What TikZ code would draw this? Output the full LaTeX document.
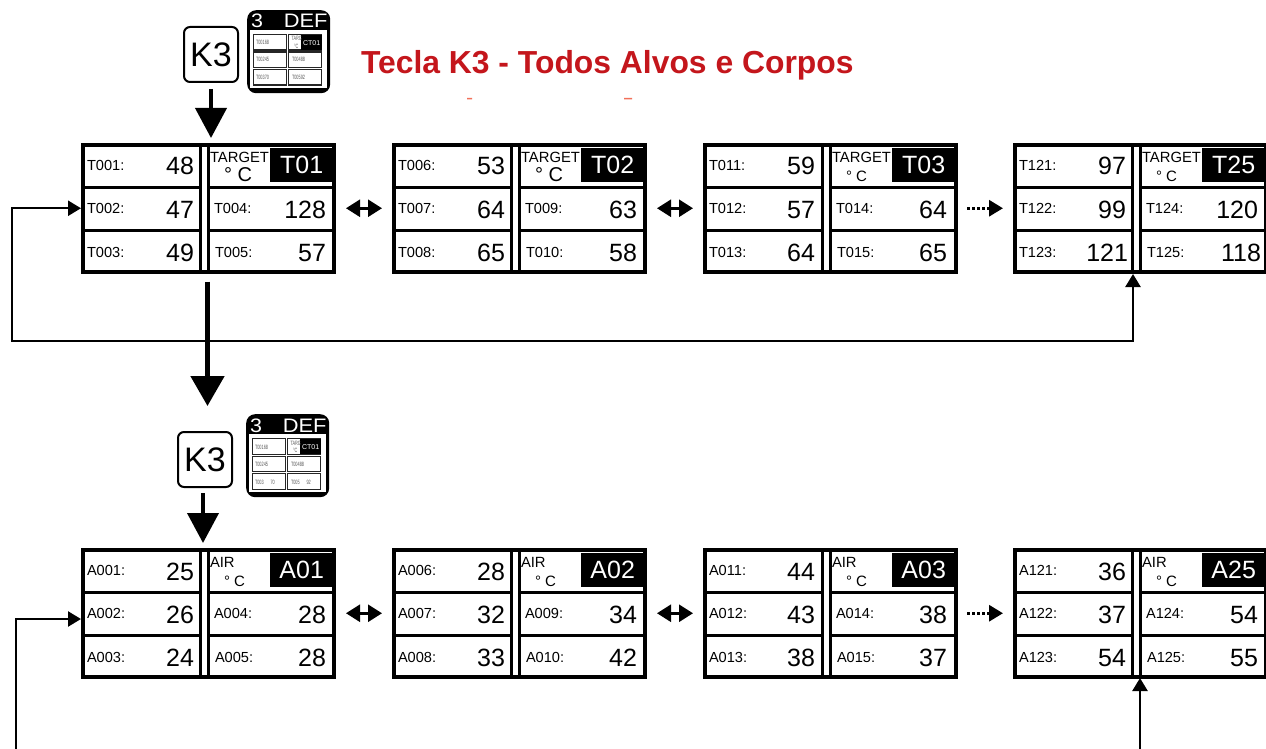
\documentclass[tikz,border=0pt]{standalone}
\usepackage{fontspec}
\usepackage{graphicx}
\setmainfont{Liberation Sans}
\usetikzlibrary{arrows.meta}
\definecolor{titlered}{HTML}{C4161C}
\definecolor{cutred}{HTML}{F2705A}
\newcommand{\fs}[1]{\fontsize{#1}{#1}\selectfont}
\newcommand{\cond}[1]{\scalebox{.62}[1]{#1}}
\tikzset{
  x=1pt,y=-1pt,
  txt/.style={inner sep=0pt,outer sep=0pt,anchor=base west},
  txtr/.style={inner sep=0pt,outer sep=0pt,anchor=base east},
  frame/.style={draw=black,line width=4pt,fill=white,anchor=north west,minimum width=251pt,minimum height=126.5pt,inner sep=0pt},
  grid/.style={black,line width=3pt},
  tagbox/.style={fill=black,text=white,anchor=north west,minimum width=63pt,minimum height=34pt,inner sep=0pt,font=\fs{25}},
  keybox/.style={draw=black,line width=2pt,rounded corners=6pt,fill=white,minimum width=54pt,minimum height=55pt,inner sep=0pt,font=\fs{34}},
  iconbox/.style={fill=black,rounded corners=9pt,anchor=north west,minimum width=83pt,minimum height=83pt,inner sep=0pt},
  iconcell/.style={draw=black!85,line width=1.2pt,fill=white,anchor=north west,inner sep=0pt,minimum width=33pt,minimum height=15.5pt},
  tiny/.style={inner sep=0pt,outer sep=0pt,anchor=base west,font=\fs{6.2},text=black!65},
  heavy/.style={-{Triangle[length=30pt,width=31pt]},line width=4pt,black},
  heavier/.style={-{Triangle[length=30pt,width=33pt]},line width=5pt,black},
  half loop/.style={-{Triangle[length=13pt,width=15pt]},line width=2.4pt,black},
  dbl/.style={{Triangle[length=14pt,width=17pt]}-{Triangle[length=14pt,width=17pt]},line width=2.6pt,black,shorten <=10pt,shorten >=10pt},
  dots/.style={-{Triangle[length=14pt,width=16pt]},line width=3pt,black,dash pattern=on 2.8pt off 2.2pt,shorten <=9pt,shorten >=10pt},
}
% name, x, y, header, degree x offset, degree size, tag
\newcommand{\panel}[7]{%
  \node[frame] (#1) at (#2,#3) {};
  \draw[grid] (#2+119,#3+2) -- (#2+119,#3+128) (#2+127,#3+2) -- (#2+127,#3+128);
  \draw[grid] (#2+2,#3+44) -- (#2+119,#3+44) (#2+2,#3+87) -- (#2+119,#3+87)
              (#2+127,#3+44) -- (#2+253,#3+44) (#2+127,#3+87) -- (#2+253,#3+87);
  \node[tagbox] (#1-tag) at (#2+189,#3+5) {#7};
  \node[txt,font=\fs{14.8}] (#1-head) at (#2+129,#3+19) {#4};
  \node[txt,font=\fs{#6}] (#1-deg) at (#2+#5,#3+38) {° C};
}
% name, x, y, three left rows
\newcommand{\leftvals}[9]{%
  \node[txt,font=\fs{14.6}] (#1-l1) at (#2+6,#3+27) {#4};
  \node[txtr,font=\fs{25}] (#1-n1) at (#2+113,#3+32) {#5};
  \node[txt,font=\fs{14.6}] (#1-l2) at (#2+6,#3+70) {#6};
  \node[txtr,font=\fs{25}] (#1-n2) at (#2+113,#3+75) {#7};
  \node[txt,font=\fs{14.6}] (#1-l3) at (#2+6,#3+114) {#8};
  \node[txtr,font=\fs{25}] (#1-n3) at (#2+113,#3+118) {#9};
}
% name, x, y, two right rows
\newcommand{\rightvals}[7]{%
  \node[txt,font=\fs{14.6}] (#1-l4) at (#2+133,#3+70) {#4};
  \node[txtr,font=\fs{25}] (#1-n4) at (#2+245,#3+75) {#5};
  \node[txt,font=\fs{14.6}] (#1-l5) at (#2+134,#3+114.5) {#6};
  \node[txtr,font=\fs{25}] (#1-n5) at (#2+245,#3+118) {#7};
}
% name, x, y, cells
\newcommand{\icon}[8]{%
  \node[iconbox] (#1) at (#2,#3) {};
  \node[inner sep=0pt,outer sep=0pt,anchor=base west,text=white,font=\fs{19.5}] (#1-h) at (#2+4,#3+18) {\scalebox{1.1}[1]{3}};
  \node[inner sep=0pt,outer sep=0pt,anchor=base east,text=white,font=\fs{19.5}] (#1-d) at (#2+80.5,#3+18) {\scalebox{1.12}[1]{DEF}};
  \node[fill=white,anchor=north west,minimum width=77pt,minimum height=58pt,inner sep=0pt] (#1-w) at (#2+3,#3+20) {};
  \node[iconcell] (#1-c1) at (#2+5.5,#3+24) {};
  \node[iconcell] (#1-c2) at (#2+5.5,#3+41.5) {};
  \node[iconcell] (#1-c3) at (#2+5.5,#3+59) {};
  \node[iconcell] (#1-c4) at (#2+41,#3+24) {};
  \node[iconcell] (#1-c5) at (#2+41,#3+41.5) {};
  \node[iconcell] (#1-c6) at (#2+41,#3+59) {};
  \node[fill=black,text=white,anchor=north west,minimum width=21pt,minimum height=15pt,inner sep=0pt,font=\fs{7}] (#1-t) at (#2+54,#3+25) {CT01};
  \node[tiny] (#1-a) at (#2+9,#3+35) {\cond{#4}};
  \node[tiny] (#1-b) at (#2+9,#3+52) {\cond{#5}};
  \node[tiny] (#1-c) at (#2+9,#3+70) {\cond{#6}};
  \node[tiny] (#1-e) at (#2+45,#3+52) {\cond{#7}};
  \node[tiny] (#1-f) at (#2+45,#3+70) {\cond{#8}};
  \node[tiny] (#1-g) at (#2+44.5,#3+31) {\cond{TARG}};
  \node[tiny] (#1-i) at (#2+47,#3+38.5) {\cond{°C}};
}
\begin{document}
\begin{tikzpicture}
\useasboundingbox (0,0) rectangle (1266,749);
\clip (0,0) rectangle (1266,749);
\fill[white] (0,0) rectangle (1266,749);

% title
\node[txt,text=titlered,font=\bfseries\fs{31.85}] (title) at (361,73.5) {Tecla K3 - Todos Alvos e Corpos};
\fill[cutred] (467,98) rectangle (472,99.5) (624,98) rectangle (632,99.5);

% keys and icons
\node[keybox] (k3a) at (211,54.5) {K3};
\icon{icona}{247}{10}{T00168}{T00245}{T00370}{T00488}{T00592}
\node[keybox] (k3b) at (205,459.5) {K3};
\icon{iconb}{246}{414}{T00168}{T00245}{T003\hspace{11pt}70}{T00488}{T005\hspace{11pt}92}

% upper row
\panel{t1}{81}{143}{TARGET}{143}{20}{T01}
\leftvals{t1}{81}{143}{T001:}{48}{T002:}{47}{T003:}{49}
\rightvals{t1}{81}{143}{T004:}{128}{T005:}{57}
\panel{t2}{392}{143}{TARGET}{143}{20}{T02}
\leftvals{t2}{392}{143}{T006:}{53}{T007:}{64}{T008:}{65}
\rightvals{t2}{392}{143}{T009:}{63}{T010:}{58}
\panel{t3}{703}{143}{TARGET}{143}{15}{T03}
\leftvals{t3}{703}{143}{T011:}{59\kern1pt}{T012:}{57\kern1pt}{T013:}{64\kern1pt}
\rightvals{t3}{703}{143}{T014:}{64\kern1pt}{T015:}{65\kern1pt}
\panel{t4}{1013}{143}{TARGET}{143}{15}{T25}
\leftvals{t4}{1013}{143}{T121:}{97}{T122:}{99}{T123:}{121\kern-2pt}
\rightvals{t4}{1013}{143}{T124:}{120}{T125:}{118\kern-3pt}

% lower row
\panel{a1}{81}{548}{AIR}{143}{15}{A01}
\leftvals{a1}{81}{548}{A001:}{25}{A002:}{26}{A003:}{24}
\rightvals{a1}{81}{548}{A004:}{28}{A005:}{28}
\panel{a2}{392}{548}{AIR}{143}{15}{A02}
\leftvals{a2}{392}{548}{A006:}{28}{A007:}{32}{A008:}{33}
\rightvals{a2}{392}{548}{A009:}{34}{A010:}{42}
\panel{a3}{703}{548}{AIR}{143}{15}{A03}
\leftvals{a3}{703}{548}{A011:}{44\kern1pt}{A012:}{43\kern1pt}{A013:}{38\kern1pt}
\rightvals{a3}{703}{548}{A014:}{38\kern1pt}{A015:}{37\kern1pt}
\panel{a4}{1013}{548}{AIR}{143}{15}{A25}
\leftvals{a4}{1013}{548}{A121:}{36}{A122:}{37}{A123:}{54}
\rightvals{a4}{1013}{548}{A124:}{54}{A125:}{55}

% vertical flow
\draw[heavy,shorten <=6pt,shorten >=5pt] (k3a.south) -- (k3a.south |- t1.north);
\draw[heavier,shorten <=8pt,shorten >=25pt] ([xshift=-1pt]t1.south) -- ([xshift=-1pt]t1.south |- k3b.north);
\draw[heavy,shorten <=5pt,shorten >=5pt] ([xshift=-2pt]k3b.south) -- ([xshift=-2pt]k3b.south |- a1.north);

% horizontal links
\draw[dbl] (t1.east) -- (t2.west);
\draw[dbl] (t2.east) -- (t3.west);
\draw[dots] (t3.east) -- (t4.west);
\draw[dbl] (a1.east) -- (a2.west);
\draw[dbl] (a2.east) -- (a3.west);
\draw[dots] (a3.east) -- (a4.west);

% wrap-around loops
\coordinate (t4in) at (1133,274);
\coordinate (a4in) at (1140,678);
\coordinate (a1in) at (81,619);
\coordinate (a1free) at (16,749);
\coordinate (a4free) at (1140,749);
\coordinate (t4low) at (1133,341);
\coordinate (t1low) at (12,341);
\coordinate (t1x) at (12,0);
\draw[half loop] (t4low) -- (t4in);
\draw[half loop] (t1low) -- (t1x |- t1.west) -- (t1.west);
\draw[line width=2.4pt,line cap=rect] (t1low) -- (t4low);
\draw[half loop] (a1free) -- (16,619) -- (a1in);
\draw[half loop] (a4free) -- (a4in);
\end{tikzpicture}
\end{document}
